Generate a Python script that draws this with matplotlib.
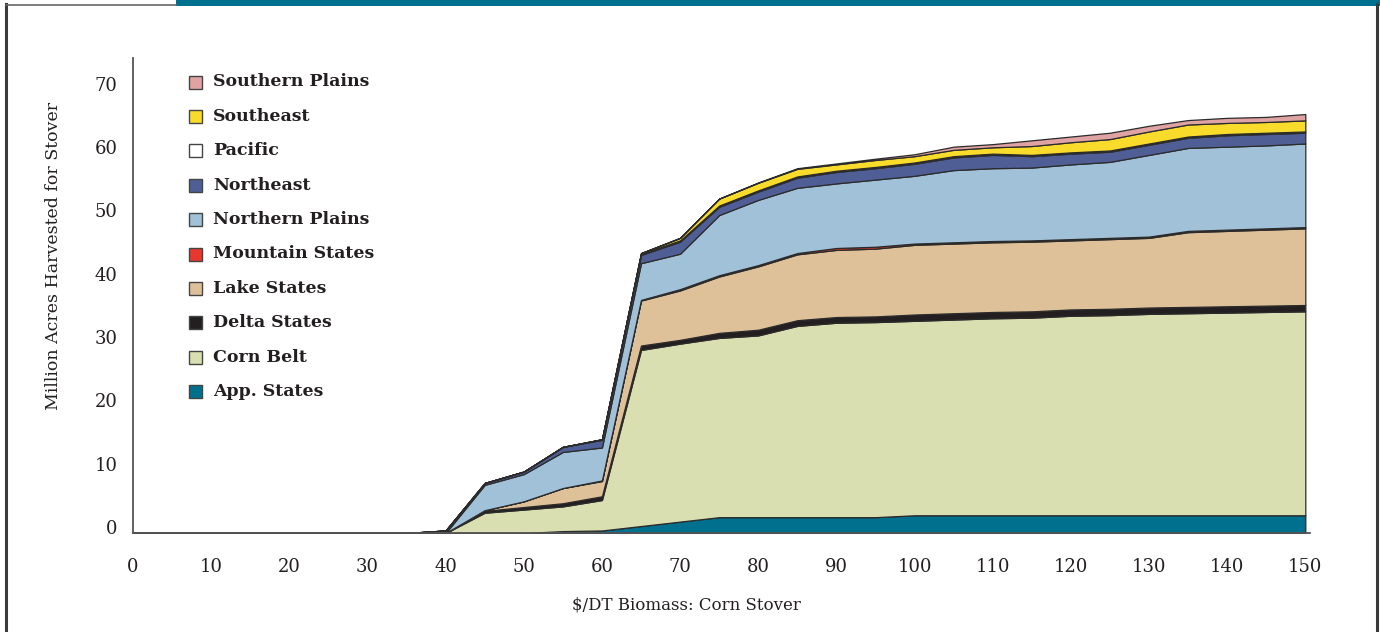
import matplotlib
matplotlib.use("Agg")
import matplotlib.pyplot as plt
from matplotlib.patches import Rectangle
from matplotlib.lines import Line2D
import matplotlib.transforms as mtransforms

plt.rcParams['font.family'] = ['DejaVu Serif']

# ---- data ----
price = [0, 5, 10, 15, 20, 25, 30, 35, 40, 45, 50, 55, 60, 65, 70, 75, 80, 85, 90,
         95, 100, 105, 110, 115, 120, 125, 130, 135, 140, 145, 150]

app_states = [0, 0, 0, 0, 0, 0, 0, 0, 0, 0, 0, 0.3, 0.4, 1.1, 1.8, 2.5, 2.5, 2.5, 2.5,
              2.5, 2.8, 2.8, 2.8, 2.8, 2.8, 2.8, 2.8, 2.8, 2.8, 2.8, 2.8]
corn_belt = [0, 0, 0, 0, 0, 0, 0, 0, 0, 3.2, 3.7, 3.9, 4.8, 27.8, 28.1, 28.3, 28.7, 30.2, 30.7,
             30.8, 30.7, 30.9, 31.1, 31.2, 31.5, 31.6, 31.8, 31.9, 32.0, 32.1, 32.2]
delta_states = [0, 0, 0, 0, 0, 0, 0, 0, 0, 0.3, 0.4, 0.5, 0.6, 0.7, 0.6, 0.8, 0.9, 0.9, 0.9,
                0.9, 1.0, 1.0, 1.0, 1.0, 1.0, 1.0, 1.0, 1.0, 1.0, 1.0, 1.0]
lake_states = [0, 0, 0, 0, 0, 0, 0, 0, 0, 0.1, 0.9, 2.4, 2.4, 7.1, 7.8, 8.9, 10.0, 10.4, 10.6,
               10.7, 11.0, 11.0, 11.0, 11.0, 10.9, 11.0, 11.0, 11.8, 11.9, 12.0, 12.1]
mountain_states = [0, 0, 0, 0, 0, 0, 0, 0, 0, 0, 0, 0, 0.1, 0.1, 0.2, 0.2, 0.2, 0.2, 0.3,
                   0.3, 0.2, 0.2, 0.2, 0.2, 0.2, 0.2, 0.2, 0.2, 0.2, 0.2, 0.2]
northern_plains = [0, 0, 0, 0, 0, 0, 0, 0, 0, 4.0, 4.3, 5.7, 5.2, 5.8, 5.6, 9.5, 10.3, 10.3, 10.2,
                   10.6, 10.7, 11.4, 11.5, 11.5, 11.8, 12.0, 12.9, 13.1, 13.1, 13.1, 13.2]
northeast = [0, 0, 0, 0, 0, 0, 0, 0, 0.4, 0.3, 0.4, 0.8, 1.2, 1.3, 1.9, 1.3, 1.3, 1.6, 1.8,
             1.8, 1.9, 2.0, 2.1, 1.8, 1.7, 1.6, 1.6, 1.6, 1.8, 1.8, 1.7]
pacific = [0, 0, 0, 0, 0, 0, 0, 0, 0, 0, 0, 0, 0.1, 0.2, 0.2, 0.2, 0.2, 0.2, 0.2,
           0.2, 0.2, 0.2, 0.2, 0.2, 0.2, 0.2, 0.2, 0.2, 0.2, 0.2, 0.2]
southeast = [0, 0, 0, 0, 0, 0, 0, 0, 0, 0, 0, 0, 0, 0.1, 0.4, 1.1, 1.2, 1.2, 1.0,
             1.1, 1.0, 1.0, 1.0, 1.4, 1.6, 1.8, 1.9, 1.9, 1.75, 1.7, 1.75]
southern_plains = [0, 0, 0, 0, 0, 0, 0, 0, 0, 0, 0, 0, 0, 0, 0, 0, 0.05, 0.1, 0.15,
                   0.2, 0.3, 0.5, 0.5, 0.9, 0.9, 1.0, 0.9, 0.7, 0.8, 0.8, 1.0]

series = [app_states, corn_belt, delta_states, lake_states, mountain_states,
          northern_plains, northeast, pacific, southeast, southern_plains]
labels = ["App. States", "Corn Belt", "Delta States", "Lake States", "Mountain States",
          "Northern Plains", "Northeast", "Pacific", "Southeast", "Southern Plains"]
colors = ["#00708f", "#d9dfb0", "#231f20", "#dfc199", "#e8372d",
          "#a0c1d8", "#4f5f96", "#ffffff", "#f9dc2b", "#e0a3a3"]

x_ticks = list(range(0, 151, 10))
y_ticks = list(range(0, 71, 10))

W, H = 1380, 632
fig = plt.figure(figsize=(W / 100, H / 100), dpi=100)

def fx(px):
    return px / W

def fy(py):
    return 1 - py / H

# frame decorations
fig.add_artist(Line2D([fx(6), fx(6)], [0, fy(4)], color="#3a3a3a", lw=2.2))
fig.add_artist(Line2D([fx(1376.5), fx(1376.5)], [0, fy(4)], color="#3a3a3a", lw=2.2))
fig.add_artist(Line2D([fx(6), fx(176)], [fy(5), fy(5)], color="#666666", lw=1.2))
fig.add_artist(Rectangle((fx(176), fy(6)), 1 - fx(176), fy(0) - fy(6),
                         transform=fig.transFigure, color="#00708f", lw=0))

ax_left, ax_right, ax_bottom, ax_top = 133, 1310, 533, 58
ax = fig.add_axes([fx(ax_left), fy(ax_bottom), (ax_right - ax_left) / W,
                   (ax_bottom - ax_top) / H])
ax.stackplot(price, *series, colors=colors, edgecolor="#2b2b2b", linewidth=0.9)
ax.set_xlim(0, 150.6)
ax.set_ylim(0, 75)
ax.set_xticks(x_ticks)
ax.set_yticks(y_ticks)
ax.tick_params(length=0, labelsize=13, colors="#231f20")
ax.tick_params(axis="x", pad=18)
ax.tick_params(axis="y", pad=11)
offset = mtransforms.ScaledTranslation(0, 6 / 100, fig.dpi_scale_trans)
for lab in ax.get_yticklabels():
    lab.set_transform(lab.get_transform() + offset)
for side in ["top", "right"]:
    ax.spines[side].set_visible(False)
for side in ["left", "bottom"]:
    ax.spines[side].set_color("#555555")
    ax.spines[side].set_linewidth(1.3)

fig.text(fx(686), fy(605), "$/DT Biomass: Corn Stover", ha="center", va="center",
         fontsize=12, color="#231f20")
fig.text(fx(53), fy(256), "Million Acres Harvested for Stover", ha="center", va="center",
         rotation=90, fontsize=12.5, color="#231f20")

# legend (top entry first)
row0, step = 82, 34.4
for i, (lab, col) in enumerate(zip(labels[::-1], colors[::-1])):
    yc = row0 + i * step
    fig.add_artist(Rectangle((fx(189), fy(yc + 6.5)), 13 / W, 13 / H,
                             transform=fig.transFigure, facecolor=col,
                             edgecolor="#444444", lw=1.0))
    fig.text(fx(213), fy(yc), lab, ha="left", va="center", fontsize=12.5,
             fontweight="bold", color="#231f20")

fig.savefig("out.png", dpi=100)
